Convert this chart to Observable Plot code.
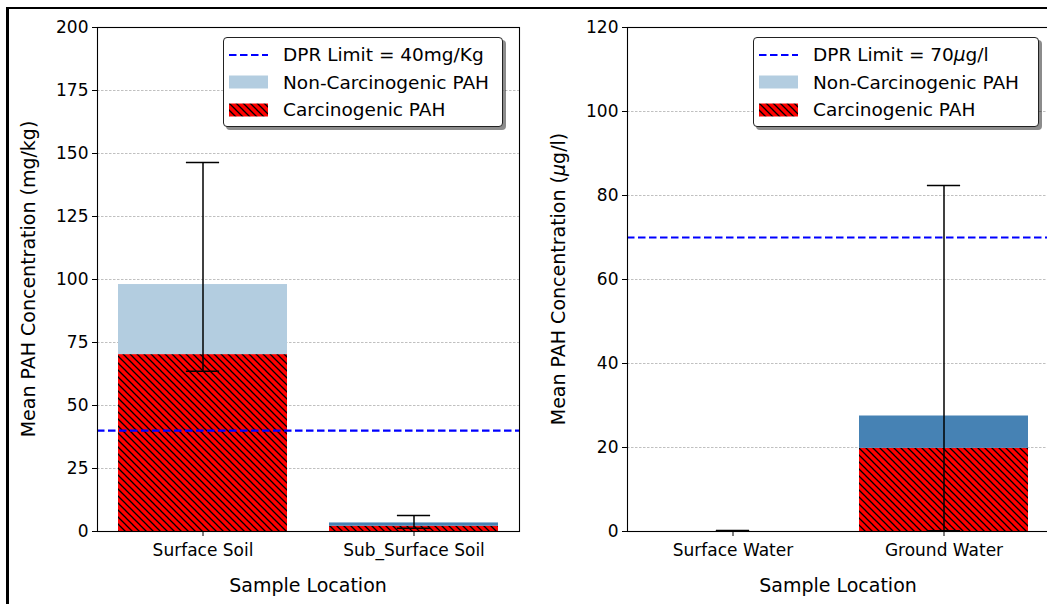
<!DOCTYPE html>
<html><head><meta charset="utf-8">
<script src="https://cdn.jsdelivr.net/npm/d3@7"></script>
<script src="https://cdn.jsdelivr.net/npm/@observablehq/plot@0.6"></script>
<style>
body{margin:0;background:#fff;}
#wrap{position:relative;width:1047px;height:604px;overflow:hidden;background:#fff;font-family:"DejaVu Sans",sans-serif;}
.panel{position:absolute;top:0;width:530px;height:604px;}
.panel svg{max-width:none !important;width:530px;height:604px;}
.fl{position:absolute;background:#000;}
.legend{position:absolute;box-sizing:border-box;background:#fff;border:1.3px solid #222;border-radius:4px;box-shadow:3px 3px 0 rgba(0,0,0,0.45);font-size:18.5px;padding-top:3px;}
.row{display:flex;align-items:center;height:27.5px;white-space:nowrap;}
.row svg{margin-left:5px;margin-right:15px;flex:none;}
</style>
</head><body>
<div id="wrap">
  <div class="panel" id="left" style="left:0"></div>
  <div class="panel" id="right" style="left:530px"></div>
  <div class="fl" style="left:6px;top:6.5px;width:2.5px;height:600px"></div>
  <div class="fl" style="left:6px;top:6.5px;width:1045px;height:2.5px"></div>
</div>
<script>
// ---- data ----
const soilCats = ["Surface Soil", "Sub_Surface Soil"];
const soilCarc = [70.2, 2.1];
const soilNonCarc = [27.8, 1.3];
const soilErrLow = [63.6, 1.3];
const soilErrHigh = [146.4, 6.3];
const soilLimit = 40;
const soilTicks = [0, 25, 50, 75, 100, 125, 150, 175, 200];

const waterCats = ["Surface Water", "Ground Water"];
const waterCarc = [0, 19.8];
const waterNonCarc = [0, 7.7];
const waterErrLow = [0.15, 0.2];
const waterErrHigh = [0.25, 82.4];
const waterLimit = 70;
const waterTicks = [0, 20, 40, 60, 80, 100, 120];

const legendLabels = ["Non-Carcinogenic PAH", "Carcinogenic PAH"];

// ---- styles ----
const LIGHT = "#b3cde0", STEEL = "#4682b4", RED = "#ff0000", BLUE = "#0000ff";

function addPattern(svg, id) {
  const defs = svg.insert("defs", ":first-child");
  const p = defs.append("pattern").attr("id", id).attr("patternUnits", "userSpaceOnUse")
    .attr("width", 7).attr("height", 7);
  p.append("rect").attr("width", 7).attr("height", 7).attr("fill", RED);
  p.append("path").attr("d", "M-1,-1L8,8M-1,6L1,8M6,-1L8,1").attr("stroke", "#000").attr("stroke-width", 1.3);
}

function panel(el, {cats, carc, non, lo, hi, colors, ticks, ymax, limit, marginRight, id, ylabel}) {
  const rows = cats.map((c, i) => ({cat: c, carc: carc[i], total: carc[i] + non[i], lo: lo[i], hi: hi[i], color: colors[i]}));
  const W = 530, ML = 97;
  const bw = (W - ML - marginRight) / 2 * 0.8;
  const inset = (bw - 33) / 2;
  const plot = Plot.plot({
    width: W, height: 604, marginLeft: ML, marginRight, marginTop: 27, marginBottom: 73,
    x: {domain: cats, paddingInner: 0.2, paddingOuter: 0.1},
    y: {domain: [0, ymax]},
    color: {type: "identity"},
    style: {fontFamily: "DejaVu Sans", fontSize: "17px", color: "#000", background: "transparent", overflow: "visible"},
    marks: [
      Plot.gridY(ticks, {stroke: "#9a9a9a", strokeOpacity: 0.9, strokeDasharray: "2.5,1.5", strokeWidth: 0.7}),
      Plot.barY(rows.filter(d => d.carc > 0), {x: "cat", y1: 0, y2: "carc", fill: `url(#${id})`}),
      Plot.barY(rows.filter(d => d.total > d.carc), {x: "cat", y1: "carc", y2: "total", fill: d => d.color}),
      Plot.ruleY([limit], {stroke: BLUE, strokeWidth: 2.2, strokeDasharray: "7.5,3.5"}),
      Plot.ruleX(rows, {x: "cat", y1: "lo", y2: "hi", stroke: "#000", strokeWidth: 1.5}),
      Plot.tickY(rows, {x: "cat", y: "lo", insetLeft: inset, insetRight: inset, stroke: "#000", strokeWidth: 1.5}),
      Plot.tickY(rows, {x: "cat", y: "hi", insetLeft: inset, insetRight: inset, stroke: "#000", strokeWidth: 1.5}),
      Plot.axisY(ticks, {tickSize: 5, tickPadding: 4, fontSize: 17, label: null, tickFormat: d => String(d)}),
      Plot.axisX({tickSize: 5, tickPadding: 7, fontSize: 17, label: null}),
      Plot.frame({stroke: "#000", strokeWidth: 1.1})
    ]
  });
  el.appendChild(plot);
  const svg = d3.select(plot);
  addPattern(svg, id);
  svg.append("text").attr("x", (ML + W - marginRight) / 2).attr("y", 585)
    .attr("text-anchor", "middle").attr("dominant-baseline", "central")
    .attr("font-size", 19).attr("fill", "#000").text("Sample Location");
  const yl = svg.append("text").attr("transform", `translate(28,279) rotate(-90)`)
    .attr("text-anchor", "middle").attr("dominant-baseline", "central")
    .attr("font-size", 19).attr("fill", "#000");
  ylabel(yl);
}

panel(document.getElementById("left"), {
  cats: soilCats, carc: soilCarc, non: soilNonCarc, lo: soilErrLow, hi: soilErrHigh,
  colors: [LIGHT, STEEL], ticks: soilTicks, ymax: 200, limit: soilLimit, marginRight: 11, id: "hatchL",
  ylabel: t => t.text("Mean PAH Concentration (mg/kg)")
});
panel(document.getElementById("right"), {
  cats: waterCats, carc: waterCarc, non: waterNonCarc, lo: waterErrLow, hi: waterErrHigh,
  colors: [STEEL, STEEL], ticks: waterTicks, ymax: 120, limit: waterLimit, marginRight: 11, id: "hatchR",
  ylabel: t => { t.append("tspan").text("Mean PAH Concentration ("); t.append("tspan").attr("font-style", "italic").text("μ"); t.append("tspan").text("g/l)"); }
});

// ---- legends ----
function legend(left, width, limitLabel) {
  const div = d3.select("#wrap").append("div").attr("class", "legend")
    .style("left", left + "px").style("top", "37px").style("width", width + "px").style("height", "90px");
  const r1 = div.append("div").attr("class", "row");
  const s1 = r1.append("svg").attr("width", 39).attr("height", 14);
  s1.append("line").attr("x1", 0).attr("x2", 39).attr("y1", 7).attr("y2", 7)
    .attr("stroke", BLUE).attr("stroke-width", 2.2).attr("stroke-dasharray", "7.5,3.5");
  r1.append("span").html(limitLabel);
  const r2 = div.append("div").attr("class", "row");
  r2.append("svg").attr("width", 39).attr("height", 14).append("rect").attr("width", 39).attr("height", 13).attr("y", 0.5).attr("fill", LIGHT);
  r2.append("span").text(legendLabels[0]);
  const r3 = div.append("div").attr("class", "row");
  r3.append("svg").attr("width", 39).attr("height", 14).append("rect").attr("width", 39).attr("height", 13).attr("y", 0.5).attr("fill", "url(#hatchL)");
  r3.append("span").text(legendLabels[1]);
}
legend(223, 280, "DPR Limit = " + soilLimit + "mg/Kg");
legend(753, 286, "DPR Limit = " + waterLimit + "<i>μ</i>g/l");
</script>
</body></html>
